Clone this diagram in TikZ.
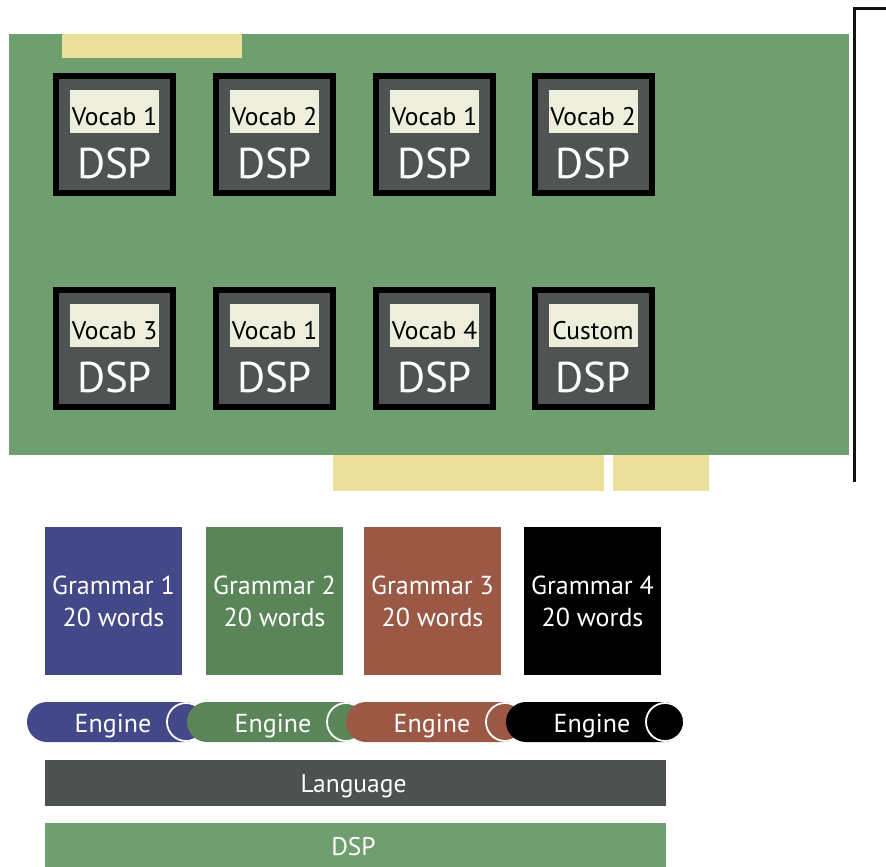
\documentclass[tikz,border=0pt]{standalone}
\usepackage{fontspec}
\setmainfont{PT Sans}
\definecolor{board}{HTML}{6F9E6F}
\definecolor{tab}{HTML}{EAE09B}
\definecolor{chip}{HTML}{4F5352}
\definecolor{lbl}{HTML}{EDEEDC}
\definecolor{gblue}{HTML}{434888}
\definecolor{ggreen}{HTML}{5A8558}
\definecolor{gred}{HTML}{9A5845}
\definecolor{gblack}{HTML}{000000}
\definecolor{lang}{HTML}{4D5150}
\tikzset{
  blk/.style={inner sep=0pt, outer sep=0pt, anchor=north west},
  chipbox/.style={draw=black, line width=6pt, fill=chip, minimum width=117pt, minimum height=117pt, inner sep=0pt, outer sep=0pt},
  lblbox/.style={fill=lbl, minimum width=89pt, minimum height=43pt, inner sep=0pt},
  lbltxt/.style={text=black, font=\fontsize{25.5}{25.5}\selectfont, inner sep=0pt, anchor=base},
  dsptxt/.style={text=white, font=\fontsize{43}{43}\selectfont, inner sep=0pt, anchor=base},
  gram/.style={minimum width=137pt, minimum height=148pt, inner sep=0pt, outer sep=0pt},
  gramtxt/.style={text=white, font=\fontsize{26}{26}\selectfont, inner sep=0pt, anchor=base},
  pill/.style={rounded corners=20pt, minimum width=178pt, minimum height=40pt, inner sep=0pt, outer sep=0pt, anchor=west},
  pillend/.style={circle, draw=white, line width=1.8pt, minimum size=38pt, inner sep=0pt},
  pilltxt/.style={text=white, font=\fontsize{26}{26}\selectfont, inner sep=0pt, anchor=base},
  bar/.style={minimum width=621pt, inner sep=0pt, outer sep=0pt, anchor=north west},
  bartxt/.style={text=white, font=\fontsize{25.5}{25.5}\selectfont, inner sep=0pt, anchor=base}
}
\begin{document}
\begin{tikzpicture}[x=1pt,y=-1pt]
\useasboundingbox (0,0) rectangle (886,867);
% board
\node[blk, fill=board, minimum width=840pt, minimum height=421pt] (board) at (9,34) {};
\node[blk, fill=tab, minimum width=180pt, minimum height=24pt] (toptab) at (62,34) {};
\node[blk, fill=tab, minimum width=271pt, minimum height=36pt] (conn1) at (333,455) {};
\node[blk, fill=tab, minimum width=96pt, minimum height=36pt] (conn2) at (613,455) {};
% bracket
\coordinate (bA) at (886,9);
\coordinate (bB) at (854,9);
\coordinate (bC) at (854,482);
\draw[line width=3pt, color=black!93] (bA) -- (bB) -- (bC);
% chips
\foreach \i/\x/\y/\t in {1/114.5/134.5/Vocab 1, 2/274.5/134.5/Vocab 2, 3/434.5/134.5/Vocab 1, 4/593/134.5/Vocab 2,
                          5/114.5/348.5/Vocab 3, 6/274.5/348.5/Vocab 1, 7/434.5/348.5/Vocab 4, 8/593/348.5/Custom} {
  \node[chipbox] (chip\i) at (\x,\y) {};
  \node[lblbox] (lbl\i) at ([yshift=23pt]chip\i.center) {};
  \node[lbltxt] (lt\i) at ([yshift=9.5pt]chip\i.center) {\t};
  \node[dsptxt] (dsp\i) at ([yshift=-43.5pt]chip\i.center) {DSP};
}
% grammars
\foreach \i/\x/\c in {1/45/gblue, 2/206/ggreen, 3/364/gred, 4/524/gblack} {
  \node[gram, fill=\c, blk] (g\i) at (\x,527) {};
  \node[gramtxt] (gta\i) at (\x+68.5,594) {Grammar \i};
  \node[gramtxt] (gtb\i) at (\x+68.5,626) {20 words};
}
% engines
\foreach \i/\L/\c in {1/27/gblue, 2/187/ggreen, 3/346/gred, 4/506/gblack} {
  \node[pill, fill=\c] (eng\i) at (\L,722) {};
  \node[pillend, fill=\c] (end\i) at (\L+159,722) {};
  \node[pilltxt] (et\i) at (\L+86,732) {Engine};
}
% bars
\node[bar, fill=lang, minimum height=46pt] (language) at (45,760) {};
\node[bartxt] (langtxt) at (353.5,792) {Language};
\node[bar, fill=board, minimum height=44pt] (dspbar) at (45,823) {};
\node[bartxt] (dsptxtbar) at (353.5,855) {DSP};
\end{tikzpicture}
\end{document}
